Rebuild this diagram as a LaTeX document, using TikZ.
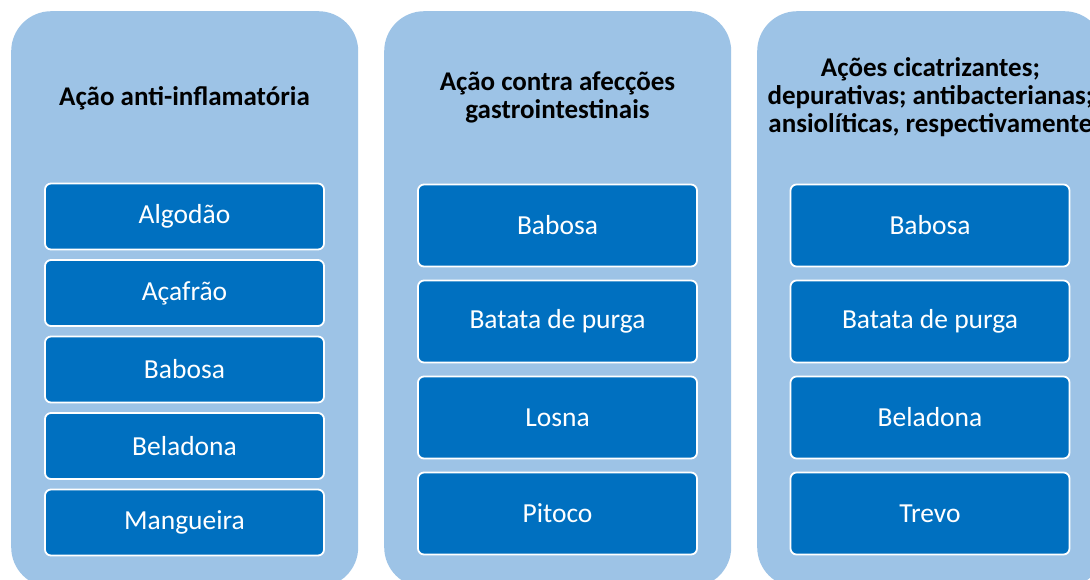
\documentclass[tikz,border=0pt]{standalone}
\usepackage{fontspec}
\setmainfont{Carlito}
\definecolor{panelblue}{HTML}{9DC3E6}
\definecolor{boxblue}{HTML}{0070C0}
\begin{document}
\begin{tikzpicture}[x=1pt,y=-1pt,
  panel/.style={fill=panelblue, draw=none, rounded corners=40pt, minimum width=347pt, minimum height=576pt, anchor=north west, inner sep=0pt},
  title/.style={align=center, font=\bfseries\fontsize{27}{28}\selectfont, text=black, inner sep=0pt},
  itemA/.style={fill=boxblue, draw=white, line width=1.8pt, rounded corners=6pt, minimum width=279pt, minimum height=66pt, text=white, font=\fontsize{27.5}{28}\selectfont, inner sep=0pt},
  itemB/.style={itemA, minimum height=82pt}]
\useasboundingbox (0,0) rectangle (1090,579);
\fill[white] (0,0) rectangle (1090,579);
% panels
\node[panel] (p1) at (11,11) {};
\node[panel] (p2) at (384,11) {};
\node[panel] (p3) at (757,11) {};
% titles
\node[title] (t1) at (184.5,98) {Ação anti-inflamatória};
\node[title] (t2) at (557.5,97) {Ação contra afecções\\gastrointestinais};
\node[title] (t3) at (930.5,97) {Ações cicatrizantes;\\depurativas; antibacterianas;\\ansiolíticas, respectivamente};
% panel 1 items
\node[itemA] (a1) at (184.5,216.5) {Algodão};
\node[itemA] (a2) at (184.5,293) {Açafrão};
\node[itemA] (a3) at (184.5,369.5) {Babosa};
\node[itemA] (a4) at (184.5,446) {Beladona};
\node[itemA] (a5) at (184.5,522.5) {Mangueira};
% panel 2 items
\node[itemB] (b1) at (557.5,225.5) {Babosa};
\node[itemB] (b2) at (557.5,321.5) {Batata de purga};
\node[itemB] (b3) at (557.5,417.5) {Losna};
\node[itemB] (b4) at (557.5,513.5) {Pitoco};
% panel 3 items
\node[itemB] (c1) at (930,225.5) {Babosa};
\node[itemB] (c2) at (930,321.5) {Batata de purga};
\node[itemB] (c3) at (930,417.5) {Beladona};
\node[itemB] (c4) at (930,513.5) {Trevo};
\end{tikzpicture}
\end{document}
